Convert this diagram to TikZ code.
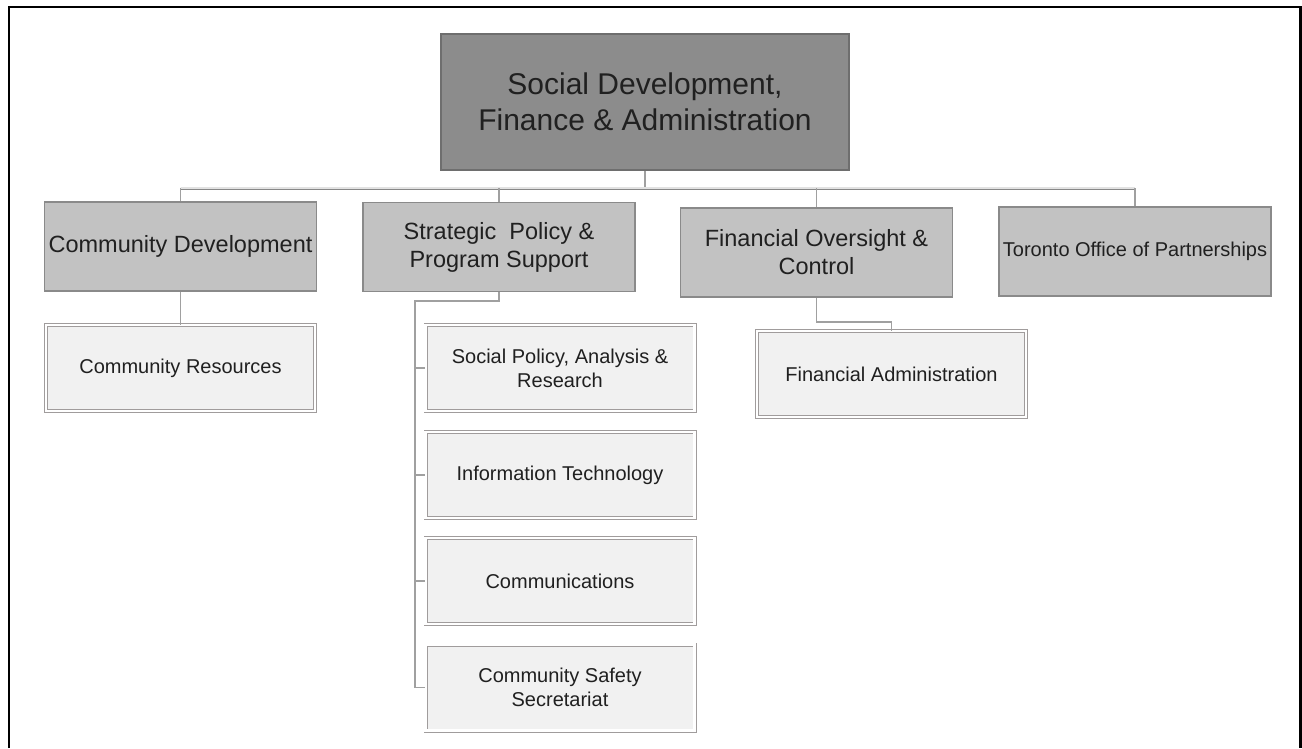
\documentclass[tikz,border=0pt]{standalone}
\usepackage{fontspec}
\setmainfont{Liberation Sans}
\definecolor{topfill}{HTML}{8C8C8C}
\definecolor{topline}{HTML}{6E6E6E}
\definecolor{midfill}{HTML}{C2C2C2}
\definecolor{midline}{HTML}{8A8A8A}
\definecolor{lowfill}{HTML}{F1F1F1}
\definecolor{lowline}{HTML}{A09C9C}
\definecolor{conn}{HTML}{A0A0A0}
\definecolor{txt}{HTML}{202020}
\tikzset{
  topbox/.style={draw=topline, line width=2pt, fill=topfill, minimum width=408pt, minimum height=136pt, inner sep=0pt, align=center, text=txt, font=\fontsize{30}{36}\selectfont},
  midbox/.style={draw=midline, line width=1.4pt, fill=midfill, minimum width=272pt, minimum height=89pt, inner sep=0pt, align=center, text=txt, font=\fontsize{23.5}{28}\selectfont},
  lowbox/.style={draw=lowline, line width=0.9pt, double=white, double distance=2.2pt, fill=lowfill, minimum width=269pt, minimum height=86pt, inner sep=0pt, align=center, text=txt, font=\fontsize{20}{24}\selectfont},
  link/.style={draw=conn, line width=1.1pt},
  buslink/.style={draw=conn!85!black, line width=0.7pt, double=conn!30, double distance=1.6pt},
}
\begin{document}
\begin{tikzpicture}[x=1pt,y=-1pt]
\useasboundingbox (0,0) rectangle (1302,748);
\fill[white] (0,0) rectangle (1302,748);
\draw[line width=2.6pt] (9,748) -- (9,7) -- (1300.5,7) -- (1300.5,748);

\node[topbox] (top) at (645,102) {Social Development,\\Finance \& Administration};

\node[midbox] (cd) at (180.5,246.5) {Community Development};
\node[midbox] (sp) at (499,247) {Strategic\ \ Policy \&\\Program Support};
\node[midbox] (fo) at (816.5,252.5) {Financial Oversight \&\\Control};
\node[midbox, font=\fontsize{20}{24}\selectfont] (to) at (1135,251.5) {Toronto Office of Partnerships};

\node[lowbox] (cr) at (180.5,368) {Community Resources};
\node[lowbox] (spar) at (560,368) {Social Policy, Analysis \&\\Research};
\node[lowbox] (it) at (560,475) {Information Technology};
\node[lowbox] (comm) at (560,581) {Communications};
\node[lowbox] (css) at (560,687.5) {Community Safety\\Secretariat};
\node[lowbox] (fa) at (891.5,374) {Financial Administration};

\coordinate (bus) at (645,188);
\draw[link] (top.south) -- (bus);
\draw[buslink] (cd.north |- bus) -- (to.north |- bus);
\draw[link] (cd.north |- bus) -- (cd.north);
\draw[link] (sp.north |- bus) -- (sp.north);
\draw[link] (fo.north |- bus) -- (fo.north);
\draw[link] (to.north |- bus) -- (to.north);

\draw[link] (cd.south) -- (cr.north);

\coordinate (spbus) at (415,301);
\draw[link] (sp.south) |- (spbus) -- (spbus |- css.west) -- (css.west);
\draw[link] (spbus |- spar.west) -- (spar.west);
\draw[link] (spbus |- it.west) -- (it.west);
\draw[link] (spbus |- comm.west) -- (comm.west);

\coordinate (fobend) at (816.5,322);
\draw[link] (fo.south) -- (fobend) -| (fa.north);
\end{tikzpicture}
\end{document}
